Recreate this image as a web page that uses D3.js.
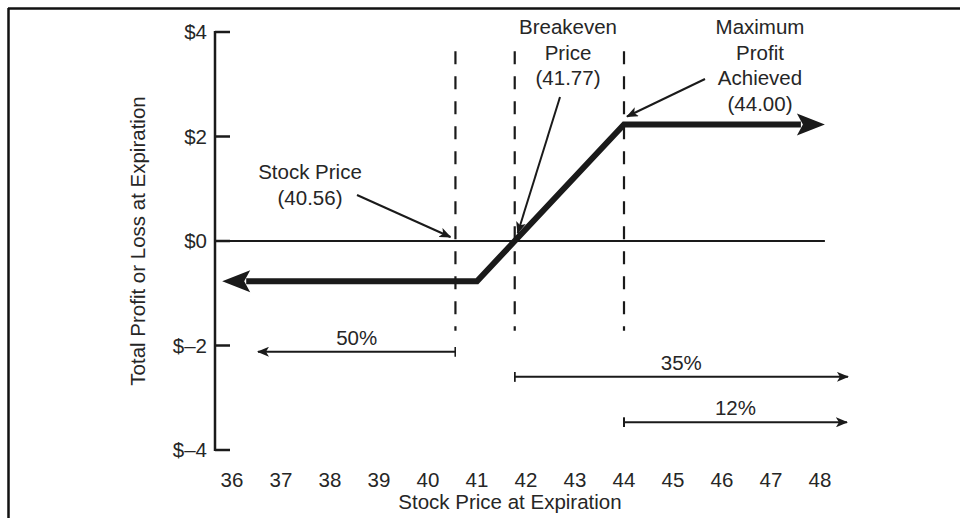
<!DOCTYPE html>
<html><head><meta charset="utf-8">
<script src="https://cdn.jsdelivr.net/npm/d3@7"></script>
<style>
html,body{margin:0;padding:0;background:#fff;}
text{font-family:"Liberation Sans",Arial,sans-serif;fill:#262626;}
</style></head>
<body><svg id="c" width="960" height="518"></svg>
<script>
// ---- data ----
const xTicks = [36,37,38,39,40,41,42,43,44,45,46,47,48];
const yTicks = [4,2,0,-2,-4];
const yTickLabels = ["$4","$2","$0","$\u20132","$\u20134"];
const payoffPrice = [35.8, 41.0, 44.0, 48.1];
const payoffValue = [-0.77, -0.77, 2.23, 2.23];
const markerPrices = [40.56, 41.77, 44.00];
const rangeLabels = ["50%","35%","12%"];
const rangeFrom = [40.56, 41.77, 44.00];
const rangeTo = [36.53, 48.57, 48.55];
const rangeLevel = [-2.12, -2.6, -3.47];
const noteLines = [["Stock Price","(40.56)"],["Breakeven","Price","(41.77)"],["Maximum","Profit","Achieved","(44.00)"]];

// ---- layout ----
const svg = d3.select("#c");
const x = d3.scaleLinear().domain([36,48]).range([232,820]);
const y = d3.scaleLinear().domain([-4,4]).range([450,32]);
const ink = "#1a1a1a";
const FS = 20.5;

// frame (top + left)
svg.append("line").attr("x1",8).attr("x2",960).attr("y1",8.5).attr("y2",8.5).attr("stroke","#111").attr("stroke-width",2.5);
svg.append("line").attr("x1",8.5).attr("x2",8.5).attr("y1",8).attr("y2",518).attr("stroke","#111").attr("stroke-width",2.5);

// markers
const defs = svg.append("defs");
defs.append("marker").attr("id","ah").attr("viewBox","0 0 12 10").attr("refX",11).attr("refY",5)
  .attr("markerWidth",12).attr("markerHeight",10).attr("markerUnits","userSpaceOnUse").attr("orient","auto")
  .append("path").attr("d","M0,0 L12,5 L0,10 L3,5 Z").attr("fill",ink);
defs.append("marker").attr("id","bar").attr("viewBox","0 0 2 10").attr("refX",1).attr("refY",5)
  .attr("markerWidth",2).attr("markerHeight",10).attr("markerUnits","userSpaceOnUse").attr("orient","auto")
  .append("rect").attr("x",0).attr("y",0).attr("width",2).attr("height",10).attr("fill",ink);

// y axis
const axX = 215;
svg.append("line").attr("x1",axX).attr("x2",axX).attr("y1",y(4)-1).attr("y2",y(-4)+1).attr("stroke",ink).attr("stroke-width",2.5);
yTicks.forEach((t,i)=>{
  svg.append("line").attr("x1",axX).attr("x2",axX+15).attr("y1",y(t)).attr("y2",y(t)).attr("stroke",ink).attr("stroke-width",2.5);
  svg.append("text").attr("x",axX-8).attr("y",y(t)).attr("dy","0.35em").attr("text-anchor","end")
    .attr("font-size",FS).text(yTickLabels[i]);
});
// x tick labels
xTicks.forEach(t=>{
  svg.append("text").attr("x",x(t)).attr("y",480).attr("dy","0.35em").attr("text-anchor","middle").attr("font-size",FS).text(t);
});
// axis titles
svg.append("text").attr("x",510).attr("y",509).attr("text-anchor","middle").attr("font-size",FS).text("Stock Price at Expiration");
svg.append("text").attr("transform",`translate(145,${y(0)}) rotate(-90)`).attr("text-anchor","middle").attr("font-size",FS)
  .text("Total Profit or Loss at Expiration");

// zero line
svg.append("line").attr("x1",axX).attr("x2",x(48.1)).attr("y1",y(0)).attr("y2",y(0)).attr("stroke",ink).attr("stroke-width",2);

// dashed markers
markerPrices.forEach(p=>{
  svg.append("line").attr("x1",x(p)).attr("x2",x(p)).attr("y1",y(3.63)).attr("y2",y(-1.72))
    .attr("stroke",ink).attr("stroke-width",2.2).attr("stroke-dasharray","13,12");
});

// payoff line
const pts = payoffPrice.map((p,i)=>[x(p),y(payoffValue[i])]);
const headL = 28, headW = 11;
const inner = pts.slice();
inner[0] = [pts[0][0]+headL-4, pts[0][1]];
inner[3] = [pts[3][0]-headL+4, pts[3][1]];
svg.append("path").attr("d",d3.line()(inner)).attr("fill","none").attr("stroke",ink).attr("stroke-width",6).attr("stroke-linejoin","miter");
// arrowheads
const l0 = pts[0], r0 = pts[3];
svg.append("path").attr("d",`M${l0[0]},${l0[1]} L${l0[0]+headL},${l0[1]-headW} L${l0[0]+headL-6},${l0[1]} L${l0[0]+headL},${l0[1]+headW} Z`).attr("fill",ink);
svg.append("path").attr("d",`M${r0[0]},${r0[1]} L${r0[0]-headL},${r0[1]-headW} L${r0[0]-headL+6},${r0[1]} L${r0[0]-headL},${r0[1]+headW} Z`).attr("fill",ink);

// range arrows
rangeLabels.forEach((lab,i)=>{
  const x1 = x(rangeFrom[i]), x2 = x(rangeTo[i]), yy = y(rangeLevel[i]);
  svg.append("line").attr("x1",x1).attr("x2",x2).attr("y1",yy).attr("y2",yy).attr("stroke",ink).attr("stroke-width",2)
    .attr("marker-start","url(#bar)").attr("marker-end","url(#ah)");
  svg.append("text").attr("x",(x1+x2)/2).attr("y",yy-7).attr("text-anchor","middle").attr("font-size",FS).text(lab);
});

// annotations
const noteCx = [310, 568, 760];
const noteTop = [172, 27, 27];
const lineH = 25.5;
noteLines.forEach((lines,i)=>{
  lines.forEach((s,j)=>{
    svg.append("text").attr("x",noteCx[i]).attr("y",noteTop[i]+j*lineH).attr("dy","0.35em").attr("text-anchor","middle").attr("font-size",FS).text(s);
  });
});
// annotation arrows (start point near text, end near marker)
const noteArrowStart = [[357,195],[560,97],[705,79]];
const noteArrowEnd = [[x(40.56)-5,y(0)-4],[x(41.77)+3,y(0)-8],[x(44)+3,y(2.23)-8]];
noteArrowStart.forEach((s,i)=>{
  const e = noteArrowEnd[i];
  svg.append("line").attr("x1",s[0]).attr("y1",s[1]).attr("x2",e[0]).attr("y2",e[1]).attr("stroke",ink).attr("stroke-width",2)
    .attr("marker-end","url(#ah)");
});
</script></body></html>
